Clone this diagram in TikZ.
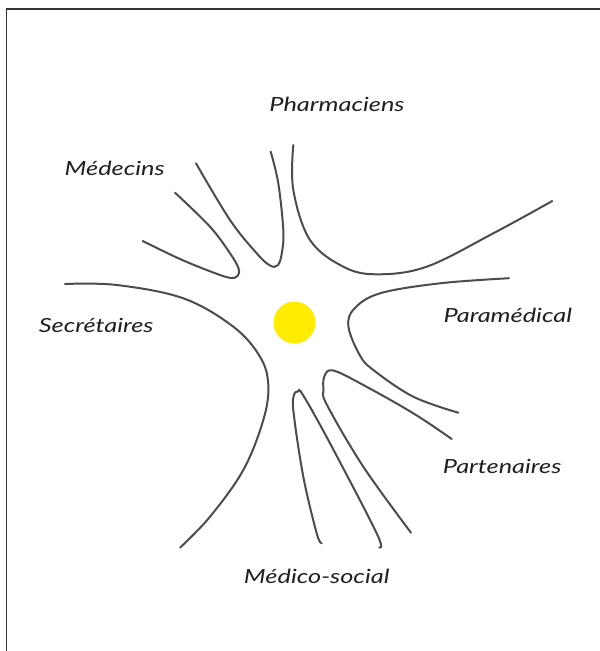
\documentclass[tikz,border=0pt]{standalone}
\usepackage{fontspec}
\setmainfont{Lato}[FakeStretch=1.3]
\definecolor{linegray}{HTML}{4C4C4C}
\definecolor{dotyellow}{HTML}{FFEC00}
\begin{document}
\begin{tikzpicture}[x=1pt,y=-1pt,
  branch/.style={draw=linegray,line width=2pt,line cap=round},
  lbl/.style={anchor=base,inner sep=0pt,font=\fontsize{19.5}{24}\selectfont\itshape,text=black!88}]
\useasboundingbox (0,0) rectangle (600,651);
\draw[line width=1.4pt,black!80] (6.7,652) -- (6.7,9) -- (601,9);
% centre
\fill[dotyellow] (294.5,322.5) circle (21);
% labels
\node[lbl] (pharma) at (337,111.7) {Pharmaciens};
\node[lbl] (medecins) at (114.7,175) {Médecins};
\node[lbl] (secret) at (96.2,332.5) {Secrétaires};
\node[lbl] (parame) at (507.8,322.7) {Paramédical};
\node[lbl] (parten) at (502.2,473.3) {Partenaires};
\node[lbl] (medsoc) at (316.7,583.3) {Médico-social};
% branches
\draw[branch] plot[smooth,tension=0.6] coordinates {(142.7,241) (180,259) (213.3,272.5) (230,277.8) (237.5,276) (238.5,268.3) (230,253.3) (210,226.7) (175,192.7)};
\draw[branch] plot[smooth,tension=0.6] coordinates {(196,163.3) (230,220) (256.7,253.3) (270,265.5) (278,265) (282,252) (283.3,230) (278.3,183.3) (270.7,151.7)};
\draw[branch] plot[smooth,tension=0.6] coordinates {(293.3,145) (293.3,190) (310,240) (343.3,266.7) (376.7,274.3) (426.7,266.7) (493.3,233.3) (552.3,201)};
\draw[branch] plot[smooth,tension=0.6] coordinates {(509,278.2) (440,283.3) (380,293.3) (354,309) (348.5,327) (359.7,355) (373.3,370) (413.3,396.7) (458.3,412.7)};
\draw[branch] plot[smooth,tension=0.6] coordinates {(451.7,439) (413.3,413.3) (363.3,385) (333.3,370.5) (324.5,376) (323.5,390) (327,405) (363.3,466.7) (411,532.7)};
\draw[branch] plot[smooth,tension=0.6] coordinates {(321.7,543.3) (316.7,533.3) (303.3,476.7) (293.5,412) (294,395) (298,391.5) (303,395) (330,443.3) (376.7,533.3) (379.3,547.3)};
\draw[branch] plot[smooth,tension=0.6] coordinates {(65,284) (116.7,285) (183.3,298.3) (233.3,326.7) (260,356.7) (268.3,385) (263.3,420) (243.3,470) (210,516.7) (180,547.7)};
\end{tikzpicture}
\end{document}
